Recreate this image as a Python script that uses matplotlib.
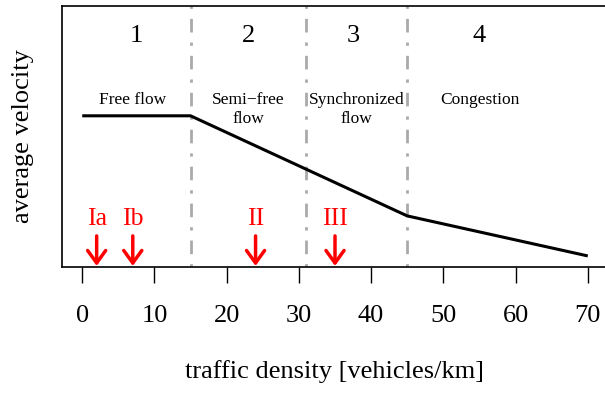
import matplotlib
matplotlib.use("Agg")
import matplotlib.pyplot as plt

plt.rcParams['font.family'] = ['Liberation Serif', 'DejaVu Serif']

# speed-density profile (piecewise linear)
density = [0, 15, 45, 70]
velocity = [60, 60, 20, 4]

# regime boundaries and labels
bounds = [15, 31, 45]
region_num_x = [7.5, 23, 37.5, 55]
region_nums = ["1", "2", "3", "4"]
region_lbl_x = [7, 23, 38, 55]
region_lbls = ["Free flow", "Semi\u2212free\nflow", "Synchronized\nflow", "Congestion"]

# measurement points
meas_x = [2, 7, 24, 35]
meas_lbls = ["Ia", "Ib", "II", "III"]

xticks = [0, 10, 20, 30, 40, 50, 60, 70]

fig = plt.figure(figsize=(6.05, 3.94), dpi=100)
ax = fig.add_axes([62 / 605, 127.3 / 394, 546 / 605, 261 / 394])

for b in bounds:
    ax.axvline(b, color="#aaaaaa", lw=2, linestyle=(0, (1.2, 3.6, 4.9, 3.6)))

ax.plot(density, velocity, color="black", lw=2.2, solid_capstyle="butt")

for x, s in zip(region_num_x, region_nums):
    ax.text(x, 91.8, s, ha="center", va="center", fontsize=19)
for x, s in zip(region_lbl_x, region_lbls):
    ax.text(x, 69.5, s, ha="center", va="top", fontsize=12.5, linespacing=1.25)

for x, s in zip(meas_x, meas_lbls):
    ax.text(x, 18.8, s, ha="center", va="center", fontsize=18.5, color="red")
    ax.annotate("", xy=(x, 0), xytext=(x, 12),
                arrowprops=dict(arrowstyle="->, head_length=0.9, head_width=0.65",
                                color="red", lw=2.5, shrinkA=0, shrinkB=0,
                                mutation_scale=10))

ax.set_xlim(-2.8, 72.8)
ax.set_ylim(-0.3, 104)
ax.set_xticks(xticks)
ax.set_yticks([])
ax.tick_params(axis="x", length=11.5, width=1, pad=16, labelsize=19)
for sp in ax.spines.values():
    sp.set_linewidth(1.2)

ax.set_xlabel("traffic density [vehicles/km]", fontsize=19, labelpad=24)
ax.set_ylabel("average velocity", fontsize=19, labelpad=20)

fig.savefig("out.png", dpi=100)
